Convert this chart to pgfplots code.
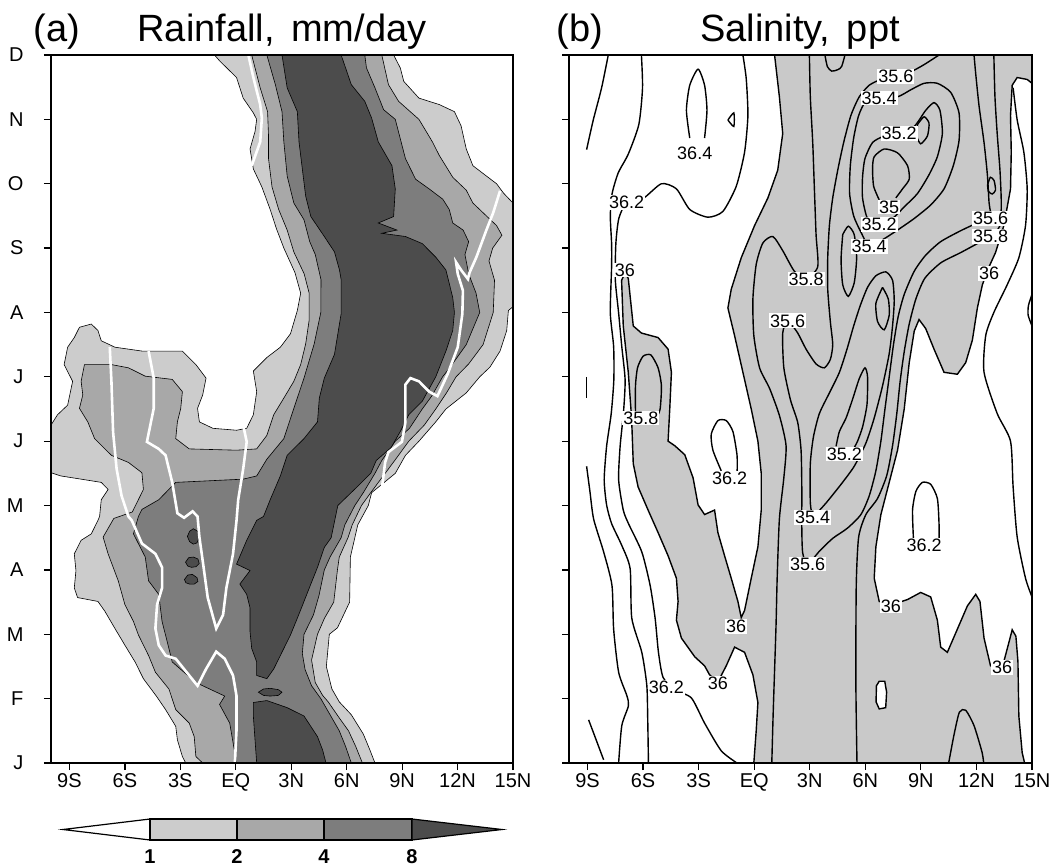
\documentclass[border=0pt]{standalone}
\usepackage{pgfplots}
\pgfplotsset{compat=1.18}
\usepackage{fontspec}
\setmainfont{Liberation Sans}
\definecolor{lv1}{gray}{0.80}
\definecolor{lv2}{gray}{0.66}
\definecolor{lv4}{gray}{0.49}
\definecolor{lv8}{gray}{0.30}
\definecolor{sal}{gray}{0.79}
\tikzset{lab/.style={fill=white, inner sep=1pt, font=\fontsize{18}{20}\selectfont}}

\begin{document}
\begin{tikzpicture}
\useasboundingbox (0,0) rectangle (1055pt,-866pt);
\pgfplotsset{
  panel/.style={
    width=462pt, height=708pt, scale only axis,
    xmin=-10, xmax=15, ymin=0, ymax=11,
    xtick={-9,-6,...,15}, xticklabels={9S,6S,3S,EQ,3N,6N,9N,12N,15N},
    ytick={0,...,11},
    xtick pos=bottom, ytick pos=left,
    tick align=outside, major tick length=7pt,
    axis line style={line width=1.6pt},
    tick style={line width=1.2pt, black},
    tick label style={font=\fontsize{20}{24}\selectfont},
    axis on top, clip=true,
  },
  cont/.style={draw=black, line width=0.6pt},
  wline/.style={white, line width=2.6pt, no marks},
  sline/.style={black, line width=1.4pt, no marks, smooth, tension=0.4},
}
% ---------- (a) rainfall ----------
\begin{axis}[panel, at={(51pt,-763pt)}, anchor=south west,
  yticklabels={J,F,M,A,M,J,J,A,S,O,N,D}, yticklabel style={xshift=-17pt}]
% >= 1 mm/day
\addplot[cont, fill=lv1] coordinates {
(-1.15,11) (8.54,11) (8.90,10.80) (9.09,10.59) (9.91,10.33) (11.01,10.23) (11.83,10.12) (12.19,9.9) (12.47,9.54) (12.83,9.28) (13.56,9.12) (14.11,9.0) (14.5,8.85) (15,8.70)
(15,7.09) (14.75,7.03) (14.66,6.72) (14.30,6.40) (13.75,6.15) (13.20,6.0) (12.47,5.75) (11.37,5.5) (10.82,5.30) (9.91,5.0) (9.18,4.78) (8.63,4.5) (7.35,4.20) (7.17,4.0) (6.6,3.7) (6.44,3.5) (6.2,3.2) (6.16,2.5) (5.5,2.1) (5.06,2.0) (4.9,1.5) (5.2,1.15) (5.6,0.95) (6.25,0.75) (6.9,0.45) (7.26,0.20) (7.53,0)
(-2.71,0) (-2.89,0.10) (-3.16,0.36) (-3.25,0.57) (-3.80,0.83) (-4.3,1.04) (-5.0,1.31) (-5.45,1.57) (-6.00,1.83) (-6.54,2.09) (-7.09,2.36) (-7.46,2.51) (-8.56,2.57) (-8.74,2.72) (-8.65,2.99) (-8.74,3.25) (-8.37,3.46) (-7.82,3.56) (-7.46,3.77) (-7.37,3.83) (-7.28,4.09) (-6.91,4.25) (-7.28,4.36) (-8.37,4.41) (-9.47,4.46) (-10,4.51)
(-10,5.25) (-9.65,5.41) (-9.10,5.56) (-8.83,5.93) (-9.29,6.19) (-9.10,6.46) (-8.74,6.61) (-8.46,6.77) (-7.82,6.82) (-7.46,6.72) (-7.28,6.56) (-6.54,6.46) (-5.08,6.40) (-2.89,6.40) (-2.16,6.19) (-1.61,5.98) (-1.79,5.72) (-2.07,5.51) (-1.97,5.30) (-1.24,5.20) (0.04,5.17) (0.59,5.20) (0.95,5.41) (1.13,5.77) (0.95,6.09) (1.68,6.30) (2.41,6.46) (2.96,6.67) (3.33,7.03) (3.51,7.3) (3.2,7.62) (2.6,8.0) (2.2,8.3) (1.86,8.60) (1.41,8.95) (0.95,9.23) (0.77,9.54) (1.04,9.81) (1.13,10.0) (0.95,10.1) (0.40,10.33) (0.04,10.65) (-0.88,10.91)
} -- cycle;
% >= 2
\addplot[cont, fill=lv2] coordinates {
(0.86,11) (7.90,11) (8.26,10.54) (8.81,10.28) (9.91,10.0) (10.64,9.65) (11.01,9.44) (11.74,9.1) (12.47,8.9) (12.83,8.7) (13.56,8.5) (14.11,8.35) (14.4,8.2) (13.9,8.0) (13.7,7.8) (14.0,7.5) (13.93,7.0) (13.38,6.5) (12.6,6.2) (11.92,6.0) (11.4,5.75) (10.82,5.5) (10.2,5.25) (9.36,5.0) (8.6,4.7) (8.08,4.5) (7.3,4.2) (6.80,4.0) (6.3,3.7) (6.07,3.5) (5.6,3.2) (5.5,3.0) (5.3,2.5) (4.8,2.25) (4.42,2.0) (4.1,1.6) (4.3,1.25) (4.7,1.05) (5.0,0.95) (5.6,0.7) (6.1,0.5) (6.5,0.25) (6.85,0)
(-1.79,0) (-2.16,0.10) (-2.25,0.41) (-2.52,0.62) (-3.25,0.83) (-3.62,1.15) (-4.35,1.41) (-4.72,1.67) (-5.27,1.99) (-5.54,2.20) (-6.00,2.46) (-6.36,2.83) (-6.91,3.25) (-7.18,3.51) (-6.6,3.80) (-5.6,3.90) (-5.0,4.25) (-5.08,4.51) (-5.81,4.67) (-6.73,4.78) (-7.64,5.04) (-8.01,5.30) (-8.46,5.51) (-8.28,5.72) (-8.37,5.93) (-8.19,6.19) (-6.73,6.19) (-5.81,6.14) (-4.90,6.01) (-3.44,5.96) (-2.89,5.77) (-2.98,5.51) (-3.16,5.30) (-3.25,5.04) (-2.52,4.88) (0.04,4.86) (1.13,4.88) (1.68,5.09) (2.05,5.41) (2.60,5.67) (3.14,5.93) (3.51,6.19) (3.78,6.51) (3.97,6.88) (3.97,7.30) (3.7,7.6) (3.14,7.94) (2.78,8.28) (2.32,8.60) (1.96,8.95) (1.77,9.39) (1.77,9.75) (1.72,10.12) (1.32,10.49)
} -- cycle;
% >= 4
\addplot[cont, fill=lv4] coordinates {
(1.68,11) (6.98,11) (7.07,10.80) (7.53,10.49) (8.0,10.15) (8.63,10.0) (8.9,9.7) (9.18,9.39) (9.73,9.07) (10.46,8.92) (11.2,8.76) (11.55,8.60) (11.74,8.39) (12.3,8.28) (12.6,8.1) (12.4,7.9) (12.6,7.6) (13.0,7.3) (13.2,7.0) (12.47,6.5) (11.6,6.15) (11.19,6.0) (10.6,5.7) (10.09,5.5) (9.4,5.2) (8.63,5.0) (7.9,4.7) (7.53,4.5) (6.9,4.2) (6.44,4.0) (5.9,3.7) (5.70,3.5) (5.1,3.2) (4.79,3.0) (4.5,2.6) (4.2,2.3) (3.69,2.0) (3.6,1.7) (3.75,1.45) (4.1,1.2) (4.6,1.0) (5.1,0.75) (5.6,0.5) (5.95,0.25) (6.25,0)
(0.04,0) (-0.33,0.62) (-0.88,0.91) (-0.60,1.04) (-2.16,1.25) (-3.44,1.57) (-3.62,1.78) (-3.99,2.20) (-4.17,2.62) (-4.72,2.83) (-4.90,3.20) (-5.54,3.56) (-5.27,3.83) (-5.08,3.94) (-4.17,4.09) (-3.25,4.36) (0.40,4.41) (1.13,4.46) (1.68,4.72) (2.60,5.04) (3.14,5.51) (3.69,5.98) (4.24,6.51) (4.6,7.0) (4.61,7.51) (4.3,7.9) (4.0,8.1) (3.69,8.44) (3.14,8.70) (2.78,9.12) (2.60,9.65) (2.50,10.12) (2.14,10.54)
} -- cycle;
% >= 8
\addplot[cont, fill=lv8] coordinates {
(2.50,11) (5.70,11) (6.25,10.54) (6.98,10.28) (7.35,10.02) (7.71,9.65) (8.45,9.28) (8.63,8.92) (8.54,8.49) (7.71,8.39) (8.72,8.28) (7.90,8.23) (9.18,8.18) (10.09,8.07) (10.82,7.86) (11.37,7.66) (11.74,7.23) (11.83,7.0) (11.74,6.72) (11.37,6.4) (10.82,6.0) (10.09,5.62) (9.36,5.41) (8.9,5.15) (8.4,4.9) (7.6,4.7) (7.3,4.5) (6.6,4.3) (5.52,4.0) (5.16,3.5) (4.79,3.35) (4.42,3.04) (4.06,2.78) (3.69,2.51) (3.33,2.25) (2.96,1.99) (2.41,1.67) (2.05,1.46) (1.68,1.31) (1.13,1.36) (1.13,1.57) (0.86,1.78) (0.77,2.04) (0.77,2.41) (0.59,2.62) (0.22,2.78) (0.77,2.99) (0.04,3.09) (0.59,3.46) (1.13,3.77) (1.50,3.83) (1.86,4.09) (2.41,4.46) (2.78,4.78) (3.69,5.04) (4.42,5.30) (4.52,5.67) (4.79,5.98) (5.34,6.35) (5.70,6.98) (5.70,7.51) (5.61,7.66) (5.34,7.94) (4.79,8.18) (4.06,8.49) (3.78,8.81) (3.60,9.23) (3.42,9.65) (3.33,10.12) (2.78,10.49)
} -- cycle;
\addplot[cont, fill=lv8] coordinates {
(0.95,0.94) (1.68,0.97) (2.78,0.86) (3.69,0.73) (4.42,0.41) (4.70,0.20) (4.88,0) (1.13,0) (1.04,0.36) (0.95,0.73)
} -- cycle;
\addplot[cont, fill=lv8] coordinates {(1.22,1.10) (1.5,1.15) (1.86,1.16) (2.3,1.14) (2.5,1.10) (2.3,1.05) (1.86,1.04) (1.5,1.05)} -- cycle;
\addplot[cont, fill=lv8] coordinates {(-2.62,3.52) (-2.5,3.6) (-2.3,3.64) (-2.05,3.6) (-1.98,3.5) (-2.1,3.42) (-2.3,3.40) (-2.5,3.44)} -- cycle;
\addplot[cont, fill=lv8] coordinates {(-2.72,3.12) (-2.55,3.19) (-2.3,3.2) (-2.05,3.17) (-1.98,3.1) (-2.15,3.05) (-2.4,3.04) (-2.6,3.06)} -- cycle;
\addplot[cont, fill=lv8] coordinates {(-2.78,2.85) (-2.6,2.92) (-2.35,2.93) (-2.1,2.88) (-2.05,2.82) (-2.25,2.78) (-2.5,2.78) (-2.7,2.80)} -- cycle;
% white contours
\addplot[wline] coordinates {(0.68,11) (0.95,10.65) (1.32,10.23) (1.41,10.02) (1.32,9.65) (0.86,9.28)};
\addplot[wline] coordinates {(14.30,8.89) (13.93,8.55) (13.56,8.28) (13.02,7.86) (12.65,7.62) (12.56,7.52) (12.19,7.66) (11.92,7.78) (12.01,7.60) (12.29,7.34) (12.26,6.98) (12.01,6.46) (11.46,6.04) (10.91,5.70) (10.46,5.77) (9.91,5.93) (9.45,5.98) (9.18,5.88) (9.18,5.30) (8.99,4.99) (8.26,4.83) (8.08,4.67) (7.90,4.25)};
\addplot[wline] coordinates {(-6.82,6.46) (-6.73,5.93) (-6.64,5.14) (-6.45,4.57) (-6.18,4.15) (-5.81,3.83) (-5.63,3.77) (-5.08,3.41) (-4.35,3.25) (-3.99,3.04) (-3.99,2.72) (-4.26,2.46) (-4.35,2.09) (-4.17,1.83) (-3.80,1.67) (-3.25,1.62) (-2.52,1.36) (-2.07,1.20) (-1.61,1.46) (-1.06,1.73) (-0.60,1.62) (-0.15,1.36) (0.04,1.04) (0.04,0.52) (-0.05,0)};
\addplot[wline] coordinates {(-4.72,6.40) (-4.44,5.98) (-4.44,5.51) (-4.81,4.99) (-4.17,4.88) (-3.80,4.78) (-3.44,4.36) (-3.16,3.88) (-2.80,3.81) (-2.34,3.91) (-2.07,3.83) (-1.97,3.51) (-1.79,3.14) (-1.52,2.57) (-1.06,2.09) (-0.69,2.30) (-0.51,2.72) (-0.15,3.25) (0.04,3.77) (0.13,4.09) (0.40,4.57) (0.59,4.99) (0.40,5.25) (0.04,5.30)};
\end{axis}

% ---------- (b) salinity ----------
\begin{axis}[panel, at={(569pt,-763pt)}, anchor=south west, width=463pt, yticklabels={}]
% S < 36 shaded
\addplot[cont, line width=1.4pt, fill=sal] coordinates {
(1.10,11) (15,11) (15,10.56) (14.74,10.62) (14.20,10.65) (13.93,10.53) (13.84,10.06) (13.88,9.49) (13.84,8.92) (13.48,8.35) (13.03,7.93) (12.68,7.71) (12.32,7.43) (12.05,7.07) (11.78,6.57) (11.42,6.22) (10.97,6.04) (10.25,6.07) (9.71,6.43) (9.26,6.75) (8.90,6.89) (8.64,6.71) (8.37,6.22) (8.10,5.50) (7.74,4.86) (7.29,4.36) (6.84,3.86) (6.57,3.36) (6.48,2.87) (6.75,2.51) (7.56,2.47) (8.28,2.54) (8.99,2.65) (9.53,2.58) (9.89,2.22) (10.07,1.80) (10.43,1.72) (10.97,2.08) (11.51,2.44) (11.96,2.62) (12.19,2.51) (12.41,1.94) (12.76,1.51) (13.39,1.48) (13.75,1.87) (13.93,2.07) (14.13,1.97) (14.24,1.58) (14.29,0.73) (14.47,0.16) (14.60,0)
(-0.02,0) (0.11,0.51) (0.20,0.94) (-0.07,1.37) (-0.52,1.72) (-1.06,1.80) (-1.51,1.51) (-1.96,1.26) (-2.41,1.37) (-2.68,1.51) (-3.21,1.65) (-3.93,1.94) (-4.20,2.22) (-4.11,2.51) (-4.20,2.87) (-4.65,3.22) (-5.19,3.58) (-5.73,3.93) (-6.27,4.29) (-6.53,4.65) (-6.62,5.36) (-6.80,6.07) (-7.07,6.79) (-7.16,7.50) (-6.98,7.61) (-6.80,7.53) (-6.53,6.79) (-6.09,6.68) (-5.19,6.61) (-4.65,6.43) (-4.47,6.07) (-4.56,5.50) (-4.65,5.00) (-4.29,4.93) (-3.75,4.79) (-3.30,4.43) (-3.03,4.01) (-2.68,3.86) (-2.14,3.93) (-1.96,3.58) (-1.60,3.22) (-1.24,2.87) (-0.88,2.51) (-0.70,2.26) (-0.52,2.37) (-0.16,2.87) (0.20,3.36) (0.38,3.93) (0.38,4.50) (0.20,5.00) (-0.16,5.50) (-0.61,6.07) (-1.06,6.64) (-1.42,7.07) (-1.24,7.36) (-0.70,7.85) (0.02,8.35) (0.74,8.78) (1.27,9.21) (1.54,9.78) (1.36,10.35)
} -- cycle;
\addplot[cont, line width=1.4pt, fill=white] coordinates {(6.6,1.2) (6.75,1.27) (7.05,1.27) (7.15,1.1) (7.1,0.86) (6.75,0.84) (6.58,0.95)} -- cycle;
% white-side contours
\addplot[sline] coordinates {(-7.88,11) (-8.24,10.49) (-8.69,9.99) (-9.05,9.53)};
\addplot[sline] coordinates {(-3.48,9.71) (-3.66,10.14) (-3.48,10.53) (-3.03,10.78) (-2.68,10.53) (-2.55,10.14) (-2.68,9.71)};
\addplot[sline] coordinates {(-1.42,9.99) (-1.10,10.10) (-1.10,9.89) (-1.42,9.99)};
\addplot[sline] coordinates {(-6.09,11) (-6.03,10.49) (-6.23,9.92) (-6.80,9.46) (-7.34,9.17) (-7.67,8.85) (-7.77,8.50) (-7.70,8.07) (-7.70,7.71) (-7.77,6.99) (-7.59,6.47) (-7.58,5.95) (-7.72,5.43) (-7.97,4.92) (-8.10,4.40) (-7.97,4.01) (-7.70,3.72) (-7.15,3.38) (-6.70,3.02) (-6.61,2.25) (-6.07,1.72) (-5.80,1.21) (-5.75,0.69) (-5.71,0)};
\addplot[sline] coordinates {(-0.93,0) (-1.78,0.19) (-2.68,0.62) (-3.39,1.01) (-4.29,1.14) (-4.92,1.33) (-5.17,1.72) (-5.35,2.25) (-5.62,2.76) (-6.07,3.28) (-6.79,3.72) (-7.07,3.93) (-7.32,4.40) (-7.24,4.92) (-7.06,5.44) (-6.97,5.95) (-7.15,6.47) (-7.32,6.99) (-7.50,7.51) (-7.47,8.07) (-7.31,8.46) (-6.89,8.71) (-6.00,8.77) (-5.01,9.00) (-4.20,8.92) (-3.48,8.60) (-2.50,8.48) (-1.69,8.57) (-0.97,8.96) (-0.52,9.49) (-0.34,10.06) (-0.43,10.63) (-0.61,11)};
\addplot[sline] coordinates {(-9.05,4.61) (-8.87,4.22) (-8.67,3.79) (-8.13,3.28) (-7.68,2.76) (-7.59,2.08) (-7.32,1.41) (-6.88,1.05) (-6.79,0.89) (-7.15,0.58) (-7.32,0)};
\addplot[sline] coordinates {(-9.05,6.00) (-9.05,5.68)};
\addplot[sline] coordinates {(-8.94,0.67) (-8.13,0.05)};
\addplot[sline] coordinates {(-6.41,5.43) (-6.41,5.86) (-6.30,6.14) (-6.0,6.32) (-5.58,6.34) (-5.19,6.14) (-5.01,5.86) (-5.08,5.50) (-5.28,5.36)};
\addplot[sline] coordinates {(-1.78,4.54) (-2.23,4.86) (-2.32,5.11) (-1.96,5.32) (-1.51,5.32) (-1.15,5.15) (-0.93,4.79) (-0.92,4.54)};
\addplot[sline] coordinates {(8.60,3.47) (8.55,3.93) (8.73,4.22) (9.08,4.36) (9.53,4.33) (9.89,4.11) (9.98,3.72) (9.98,3.44)};
\addplot[sline] coordinates {(13.98,10.49) (14.20,9.99) (14.56,9.49) (14.74,8.92) (14.65,8.35) (14.29,7.85) (13.66,7.43) (12.94,7.00) (12.50,6.64) (12.41,6.07) (13.12,5.43) (13.84,5.00) (13.98,4.29) (14.20,3.51) (14.65,2.87) (15,2.58)};
\addplot[sline] coordinates {(15,7.28) (14.81,7.11) (14.79,6.96) (15,6.79)};
% shaded-side contours
\addplot[sline] coordinates {(3.82,11) (3.95,10.82) (4.18,10.75) (4.5,10.77) (4.72,10.82) (4.90,11)};
\addplot[sline] coordinates {(2.98,11) (3.03,10.35) (3.16,9.64) (3.25,8.92) (3.34,8.21) (3.43,7.71) (2.80,7.52) (2.17,7.64) (1.54,7.96) (1.01,8.18) (0.47,8.08) (0.11,7.75) (-0.07,7.21) (-0.02,6.64) (0.29,6.14) (0.83,5.82) (1.36,5.40) (1.72,4.93) (1.60,4.43) (1.36,3.79) (1.24,2.87) (1.18,2.15) (1.10,1.44) (1.02,0.73) (0.95,0)};
\addplot[sline] coordinates {(9.98,11) (9.17,10.85) (8.46,10.74) (7.65,10.67) (6.84,10.62) (6.21,10.53) (5.67,10.35) (5.22,10.06) (4.83,9.64) (4.51,9.21) (4.24,8.78) (4.06,8.35) (3.97,7.85) (3.97,7.36) (4.11,6.86) (4.24,6.50) (4.11,6.27) (3.79,6.14) (3.34,6.20) (2.80,6.43) (2.35,6.68) (1.81,6.87) (1.54,6.68) (1.60,6.14) (1.96,5.64) (2.35,5.29) (2.53,4.86) (2.57,4.29) (2.57,3.65) (2.62,3.26) (2.89,3.09) (3.52,3.29) (4.24,3.49) (5.04,3.65) (5.76,3.86) (6.21,4.15) (6.57,4.54) (6.84,5.00) (7.06,5.50) (7.29,6.00) (7.52,6.50) (7.77,6.93) (8.10,7.28) (8.64,7.64) (9.26,7.89) (10.07,8.10) (11.15,8.27) (12.05,8.39) (12.76,8.46) (12.68,8.71) (12.59,9.14) (12.41,9.64) (12.14,10.21) (11.96,10.71) (11.87,11)};
\addplot[sline] coordinates {(5.55,0) (5.49,1.23) (5.51,2.76) (5.64,3.51) (6.03,3.86) (6.66,4.11) (7.16,4.47) (7.47,4.93) (7.70,5.43) (7.88,5.93) (8.10,6.39) (8.37,6.82) (8.73,7.21) (9.21,7.53) (10.07,7.77) (11.15,7.93) (12.05,8.07) (12.76,8.18) (13.27,8.35) (13.34,8.71) (13.27,9.21) (13.12,9.78) (13.00,10.35) (12.94,11)};
\addplot[sline] coordinates {(3.16,3.81) (3.03,4.04) (3.03,4.65) (3.20,5.07) (3.52,5.43) (4.06,5.75) (4.60,6.07) (5.01,6.43) (5.37,6.79) (5.73,7.11) (6.12,7.39) (6.57,7.57) (7.11,7.63) (7.47,7.50) (7.56,7.18) (7.47,6.79) (7.29,6.36) (6.93,5.86) (6.48,5.36) (6.03,4.97) (5.40,4.61) (4.69,4.33) (3.88,4.04) (3.16,3.81)};
\addplot[sline] coordinates {(6.93,7.39) (7.24,7.21) (7.29,6.96) (7.02,6.73) (6.66,6.86) (6.57,7.14) (6.93,7.39)};
\addplot[sline] coordinates {(4.42,4.92) (4.60,5.15) (4.96,5.36) (5.31,5.65) (5.67,5.97) (5.98,6.14) (6.12,6.00) (6.09,5.57) (5.85,5.22) (5.58,5.00) (5.40,4.90)};
\addplot[sline] coordinates {(6.75,10.33) (7.74,10.35) (8.46,10.46) (9.17,10.56) (9.89,10.56) (10.61,10.42) (11.06,10.10) (11.06,9.67) (10.75,9.28) (10.25,8.92) (9.53,8.67) (8.64,8.46) (7.74,8.28) (6.93,8.13) (6.21,8.03) (5.76,8.25) (5.37,8.50) (5.15,8.85) (5.19,9.28) (5.37,9.71) (5.64,10.06) (6.03,10.28) (6.75,10.33)};
\addplot[sline] coordinates {(6.75,8.37) (6.12,8.46) (5.85,8.78) (5.85,9.10) (5.98,9.39) (6.39,9.64) (7.02,9.74) (7.83,9.78) (8.64,9.89) (9.26,10.14) (9.71,10.26) (10.03,10.14) (10.16,9.78) (9.89,9.42) (9.44,9.14) (8.82,8.85) (8.10,8.64) (7.47,8.46) (6.75,8.37)};
\addplot[sline] coordinates {(8.82,9.92) (9.17,10.04) (9.44,9.94) (9.35,9.74) (8.99,9.62) (8.78,9.74) (8.82,9.92)};
\addplot[sline] coordinates {(6.75,8.75) (6.45,8.96) (6.39,9.24) (6.48,9.42) (7.02,9.54) (7.74,9.48) (8.28,9.28) (8.37,9.07) (8.01,8.92) (7.65,8.78)};
\addplot[sline] coordinates {(4.78,8.21) (5.08,8.34) (5.40,8.21) (5.53,7.85) (5.40,7.46) (5.08,7.25) (4.78,7.43) (4.69,7.82) (4.78,8.21)};
\addplot[sline] coordinates {(12.60,8.98) (12.75,9.10) (12.95,9.05) (13.03,8.90) (12.85,8.84) (12.65,8.88) (12.60,8.98)};
\addplot[sline] coordinates {(10.50,0) (10.79,0.44) (11.08,0.79) (11.42,0.82) (11.87,0.58) (12.30,0.17) (12.39,0)};
% labels
\node[lab] at (axis cs:7.65,10.67) {35.6};
\node[lab] at (axis cs:6.75,10.33) {35.4};
\node[lab] at (axis cs:7.83,9.78) {35.2};
\node[lab] at (axis cs:-3.21,9.48) {36.4};
\node[lab] at (axis cs:-6.89,8.71) {36.2};
\node[lab] at (axis cs:7.29,8.64) {35};
\node[lab] at (axis cs:6.75,8.37) {35.2};
\node[lab] at (axis cs:6.21,8.03) {35.4};
\node[lab] at (axis cs:2.80,7.52) {35.8};
\node[lab] at (axis cs:-6.98,7.66) {36};
\node[lab] at (axis cs:12.76,8.46) {35.6};
\node[lab] at (axis cs:12.76,8.18) {35.8};
\node[lab] at (axis cs:12.68,7.61) {36};
\node[lab] at (axis cs:1.81,6.87) {35.6};
\node[lab] at (axis cs:-6.12,5.36) {35.8};
\node[lab] at (axis cs:-1.33,4.42) {36.2};
\node[lab] at (axis cs:4.87,4.80) {35.2};
\node[lab] at (axis cs:3.16,3.81) {35.4};
\node[lab] at (axis cs:2.89,3.09) {35.6};
\node[lab] at (axis cs:9.17,3.38) {36.2};
\node[lab] at (axis cs:-0.97,2.12) {36};
\node[lab] at (axis cs:7.38,2.44) {36};
\node[lab] at (axis cs:-4.74,1.17) {36.2};
\node[lab] at (axis cs:-1.96,1.24) {36};
\node[lab] at (axis cs:13.39,1.48) {36};
\end{axis}

% titles
\node[anchor=base, font=\fontsize{38}{44}\selectfont] at (57pt,-42pt) {(a)};
\node[anchor=base, font=\fontsize{38}{44}\selectfont] at (282pt,-42pt) {Rainfall,\hspace{6pt} mm/day};
\node[anchor=base, font=\fontsize{38}{44}\selectfont] at (580pt,-42pt) {(b)};
\node[anchor=base, font=\fontsize{38}{44}\selectfont] at (800pt,-42pt) {Salinity,\hspace{6pt} ppt};

% colour bar
\draw[line width=1.2pt, fill=white] (150pt,-819pt) -- (63pt,-829.5pt) -- (150pt,-840pt) -- cycle;
\draw[line width=1.2pt, fill=lv1] (150pt,-819pt) rectangle (237pt,-840pt);
\draw[line width=1.2pt, fill=lv2] (237pt,-819pt) rectangle (324pt,-840pt);
\draw[line width=1.2pt, fill=lv4] (324pt,-819pt) rectangle (412pt,-840pt);
\draw[line width=1.2pt, fill=lv8] (412pt,-819pt) -- (502pt,-829.5pt) -- (412pt,-840pt) -- cycle;
\foreach \x/\t in {150/1, 237/2, 324/4, 412/8}
  \node[anchor=base, font=\bfseries\fontsize{20}{22}\selectfont] at (\x pt,-863pt) {\t};
\end{tikzpicture}
\end{document}
